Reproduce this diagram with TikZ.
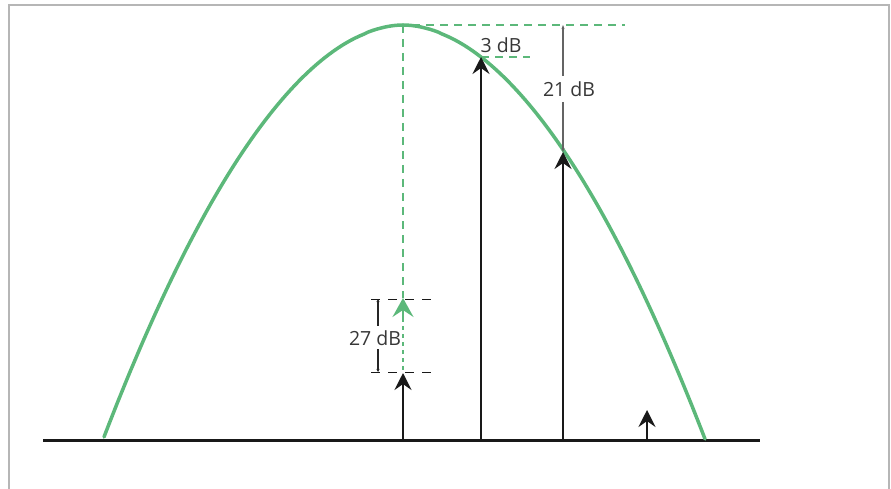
\documentclass[tikz,border=0pt]{standalone}
\usepackage{fontspec}
\setmainfont{Open Sans}
\usetikzlibrary{arrows.meta}
\definecolor{curvegreen}{RGB}{92,184,122}
\definecolor{framegray}{RGB}{182,182,182}
\definecolor{txtgray}{RGB}{55,55,55}
\definecolor{dimgray}{RGB}{100,100,100}
\begin{document}
\begin{tikzpicture}[x=1pt,y=-1pt,
  framestyle/.style={draw=framegray,line width=2.5pt},
  curvestyle/.style={draw=curvegreen,line width=3.5pt},
  greendash/.style={draw=curvegreen,line width=1.5pt,dash pattern=on 8pt off 6pt},
  greendot/.style={draw=curvegreen,line width=1.8pt,dash pattern=on 4pt off 4pt},
  blackdash/.style={draw=black!90,line width=1pt,dash pattern=on 9pt off 8pt},
  baseline/.style={draw=black!90,line width=3pt},
  sigarrow/.style={draw=black!90,line width=2.5pt,-{Stealth[length=17pt,width=17pt,inset=6pt]}},
  greenarrow/.style={draw=curvegreen,line width=1.8pt,-{Stealth[length=19pt,width=21pt,inset=7pt]}},
  dimline/.style={draw=dimgray,line width=1.2pt},
  dimline27/.style={draw=black!85,line width=1.2pt},
  label/.style={text=txtgray,font=\fontsize{19.5}{22}\selectfont,inner sep=0pt}
]
\useasboundingbox (0,0) rectangle (891,489);
% frame
\draw[framestyle] (9,489) -- (9,5) -- (889,5) -- (889,489);

% coordinates
\coordinate (peak) at (403,25);
\coordinate (base0) at (403,440);
\coordinate (baseA) at (481,440);
\coordinate (baseB) at (563,440);
\coordinate (baseC) at (647,440);
\coordinate (tipA) at (481,57);
\coordinate (tipB) at (563,152);
\coordinate (tipC) at (647,410);
\coordinate (tip0) at (403,373);
\coordinate (gtip) at (403,298);
\coordinate (gtail) at (403,320);

% green dashed guides
\draw[greendash] (peak) -- (gtip);
\draw[greendash] (412,25) -- (625,25);
\draw[greendash] (tipA) -- (530,57);
\draw[greendot] (403,318) -- (403,371);

% baseline
\draw[baseline] (43,440) -- (760,440);

% curve
\draw[curvestyle,line cap=round] plot[domain=-299:0,samples=70,variable=\t]
  ({403+\t},{25+412*pow((0.0001-\t)/299,1.89)});
\draw[curvestyle,line cap=round] plot[domain=0:302,samples=70,variable=\t]
  ({403+\t},{25+414*pow((\t+0.0001)/302,1.89)});

% signal arrows
\draw[sigarrow] (base0) -- (tip0);
\draw[sigarrow] (baseA) -- (tipA);
\draw[sigarrow] (baseB) -- (tipB);
\draw[sigarrow] (baseC) -- (tipC);

% green arrow head
\draw[greenarrow] (gtail) -- (gtip);

% 27 dB dimension
\draw[blackdash] (371,299) -- (437,299);
\draw[blackdash] (371,372) -- (437,372);
\coordinate (d27top) at (378,299);
\coordinate (d27bot) at (378,372);
\draw[dimline27,{Stealth[length=3pt,width=3pt]}-] (d27top) -- (378,326);
\draw[dimline27,-{Stealth[length=3pt,width=3pt]}] (378,349) -- (d27bot);
\node[label] (l27) at (375,338) {27 dB};

% 21 dB dimension
\coordinate (d21top) at (563,25);
\draw[dimline,{Stealth[length=4pt,width=3pt]}-] (d21top) -- (563,76);
\draw[dimline,-{Stealth[length=4pt,width=3pt]}] (563,102) -- (tipB);
\node[label] (l21) at (569,89) {21 dB};

% 3 dB label
\node[label] (l3) at (501,45) {3 dB};
\end{tikzpicture}
\end{document}
